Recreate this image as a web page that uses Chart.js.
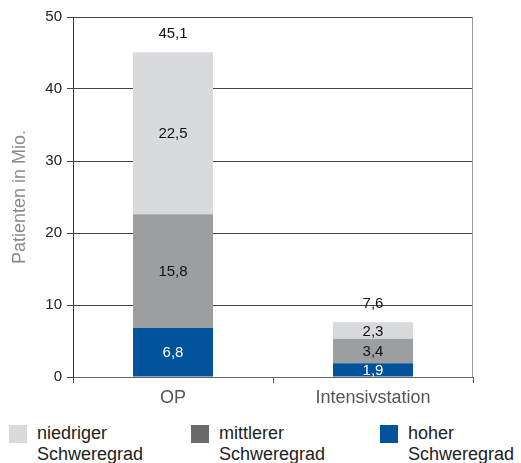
<!DOCTYPE html>
<html><head><meta charset="utf-8">
<script src="https://cdn.jsdelivr.net/npm/chart.js@4/dist/chart.umd.min.js"></script>
<style>
html,body{margin:0;padding:0;background:#fff;font-family:"Liberation Sans",Arial,sans-serif;}
#wrap{position:relative;width:521px;height:415px;}
.legend{position:absolute;top:423px;left:0;width:521px;height:40px;}
.li{position:absolute;top:0;}
.box{position:absolute;top:2px;width:18px;height:18px;}
.lt{position:absolute;top:0;font-size:18px;line-height:21px;color:#222;white-space:nowrap;}
</style></head><body>
<div id="wrap"><canvas id="c" width="521" height="415"></canvas></div>
<div class="legend" id="legend"></div>
<script>
const categories = ["OP", "Intensivstation"];
const seriesNames = [["hoher","Schweregrad"], ["mittlerer","Schweregrad"], ["niedriger","Schweregrad"]];
const hoher = [6.8, 1.9];
const mittlerer = [15.8, 3.4];
const niedriger = [22.5, 2.3];
const totals = [45.1, 7.6];
const yTicks = [0, 10, 20, 30, 40, 50];

const fmt = v => v.toFixed(1).replace('.', ',');

const labelPlugin = {
  id: 'labels',
  afterDatasetsDraw(chart) {
    const ctx = chart.ctx;
    ctx.save();
    ctx.font = '15px "Liberation Sans", Arial, sans-serif';
    ctx.textAlign = 'center';
    ctx.textBaseline = 'middle';
    chart.data.datasets.forEach((ds, di) => {
      const meta = chart.getDatasetMeta(di);
      meta.data.forEach((bar, i) => {
        const p = bar.getProps(['x', 'y', 'base'], true);
        ctx.fillStyle = di === 0 ? '#ffffff' : '#111111';
        ctx.fillText(fmt(ds.data[i]), p.x, (p.y + p.base) / 2 + 1);
      });
    });
    const top = chart.getDatasetMeta(chart.data.datasets.length - 1);
    top.data.forEach((bar, i) => {
      const p = bar.getProps(['x', 'y'], true);
      ctx.fillStyle = '#111111';
      ctx.fillText(fmt(totals[i]), p.x, chart.scales.y.getPixelForValue(totals[i]) - 18);
    });
    const a = chart.chartArea;
    ctx.strokeStyle = '#999';
    ctx.lineWidth = 1;
    ctx.beginPath();
    ctx.moveTo(Math.round(a.right) - 0.5, a.top);
    ctx.lineTo(Math.round(a.right) - 0.5, a.bottom);
    ctx.stroke();
    ctx.restore();
  }
};

const colors = ['#00529b', '#9d9ea0', '#d9dadc'];
const legendColors = ['#d9dadc', '#6a6a6a', '#00529b'];
const FONT = '"Liberation Sans", Arial, sans-serif';

new Chart(document.getElementById('c'), {
  type: 'bar',
  data: {
    labels: categories,
    datasets: [
      { label: seriesNames[0].join(' '), data: hoher, backgroundColor: colors[0] },
      { label: seriesNames[1].join(' '), data: mittlerer, backgroundColor: colors[1] },
      { label: seriesNames[2].join(' '), data: niedriger, backgroundColor: colors[2] }
    ]
  },
  options: {
    responsive: false,
    animation: false,
    layout: { padding: { top: 17, right: 48, left: 0, bottom: 0 } },
    datasets: { bar: { barPercentage: 0.4, categoryPercentage: 1.0 } },
    plugins: { legend: { display: false }, tooltip: { enabled: false } },
    scales: {
      x: {
        stacked: true,
        afterFit: s => { s.height = 38; },
        grid: { offset: true, drawOnChartArea: false, drawTicks: true, tickLength: 6, color: '#555' },
        border: { color: '#666' },
        ticks: { color: '#555', font: { size: 18, family: FONT }, padding: 4 }
      },
      y: {
        stacked: true,
        min: 0, max: 50,
        afterFit: s => { s.width = 73; },
        afterBuildTicks: s => { s.ticks = yTicks.map(v => ({ value: v })); },
        grid: { color: '#444', tickLength: 6 },
        border: { color: '#333' },
        ticks: { color: '#222', font: { size: 15, family: FONT }, padding: 5 },
        title: { display: true, text: 'Patienten in Mio.', color: '#8a8a8a', font: { size: 18, family: FONT }, padding: { top: 9, bottom: 0 } }
      }
    }
  },
  plugins: [labelPlugin]
});

const legendPos = [9, 191, 380];
const legendOrder = [2, 1, 0];
const lg = document.getElementById('legend');
legendOrder.forEach((si, k) => {
  const d = document.createElement('div');
  d.className = 'li';
  d.style.left = legendPos[k] + 'px';
  d.innerHTML = '<div class="box" style="left:0;background:' + legendColors[k] + '"></div>' +
    '<div class="lt" style="left:28px">' + seriesNames[si][0] + '<br>' + seriesNames[si][1] + '</div>';
  lg.appendChild(d);
});
</script>
</body></html>
